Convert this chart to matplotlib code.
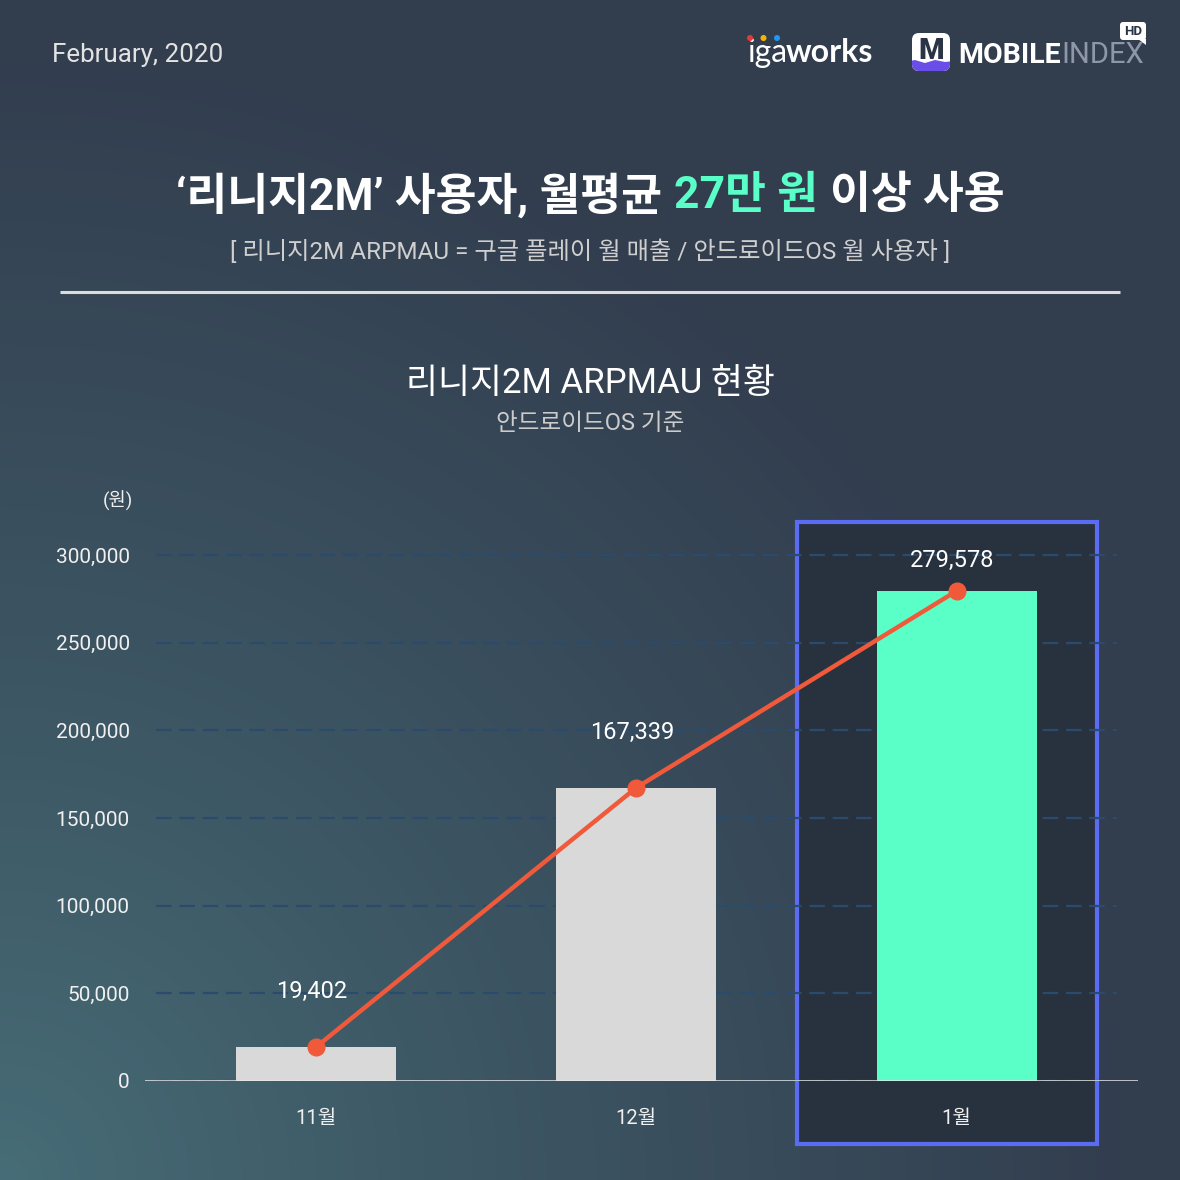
import numpy as np
import matplotlib
matplotlib.use('Agg')
import matplotlib.pyplot as plt
from matplotlib.patches import Rectangle, FancyBboxPatch, Circle, Polygon
from matplotlib.ticker import FuncFormatter

# ---------------- data ----------------
categories = ['11월', '12월', '1월']
arpmau = [19402, 167339, 279578]
yticks = [0, 50000, 100000, 150000, 200000, 250000, 300000]
bar_colors = ['#d9d9d9', '#d9d9d9', '#5affc8']
highlight = 2

title_parts = ['‘리니지2M’ 사용자, 월평균', '27만 원', '이상 사용']
title_colors = ['white', '#5affc8', 'white']
subtitle = '[ 리니지2M ARPMAU = 구글 플레이 월 매출 / 안드로이드OS 월 사용자 ]'
chart_title = '리니지2M ARPMAU 현황'
chart_sub = '안드로이드OS 기준'
unit_label = '(원)'
date_label = 'February, 2020'

W = H = 1180
fig = plt.figure(figsize=(11.8, 11.8), dpi=100)
KR = ['Noto Sans CJK KR', 'DejaVu Sans']
NUM = ['Roboto', 'Noto Sans CJK KR', 'DejaVu Sans']
LOGO = ['Roboto', 'DejaVu Sans']

# ---------------- background ----------------
bg = fig.add_axes([0, 0, 1, 1])
bg.set_xlim(0, W); bg.set_ylim(H, 0); bg.axis('off')
yy, xx = np.mgrid[0:H, 0:W]
s = np.clip(np.hypot(xx, H - yy) / 1150, 0, 1) ** 0.85
teal = np.array([0x47, 0x6e, 0x78]) / 255
dark = np.array([0x32, 0x3d, 0x4e]) / 255
img = teal[None, None, :] * (1 - s[..., None]) + dark[None, None, :] * s[..., None]
bg.imshow(img, extent=(0, W, H, 0), aspect='auto', zorder=0, interpolation='bilinear')

renderer = fig.canvas.get_renderer()

# date
bg.text(52, 55, date_label, fontsize=18.7, color='#e3e3e3', va='center', ha='left', family=NUM)

# igaworks logo
t1 = bg.text(747, 62, 'iga', fontsize=23, color='white', va='baseline', ha='left', family=['Lato', 'DejaVu Sans'])
w1 = t1.get_window_extent(renderer).width
bg.text(747 + w1 - 1, 62, 'works', fontsize=23, color='white', va='baseline', ha='left',
        family=['Lato', 'DejaVu Sans'], fontweight='bold')
for cx, c in zip([750, 763.5, 777], ['#e53935', '#f5b400', '#2196f3']):
    bg.add_patch(Circle((cx, 38), 2.3, color=c, zorder=3))

# mobileindex logo
icon = FancyBboxPatch((912, 33), 38, 38, boxstyle='round,pad=0,rounding_size=7',
                      fc='white', ec='none', zorder=3)
bg.add_patch(icon)
wave = Polygon([[905, 62], [915, 60], [925, 63], [935, 60], [945, 62], [955, 61], [955, 80], [905, 80]],
               closed=True, fc='#6a4ee8', ec='none', zorder=4)
bg.add_patch(wave)
wave.set_clip_path(icon)
bg.text(931, 51, 'M', fontsize=21, fontweight='heavy', color='#2b3445', ha='center', va='center',
        family=LOGO, zorder=5)
t2 = bg.text(958, 63, 'MOBILE', fontsize=20.5, fontweight='bold', color='white', ha='left', va='baseline',
             family=LOGO)
w2 = t2.get_window_extent(renderer).width
bg.text(958 + w2 + 1, 63, 'INDEX', fontsize=21, color='#8d97a8', ha='left', va='baseline',
        family=LOGO)
bg.add_patch(FancyBboxPatch((1120, 22), 26, 18, boxstyle='round,pad=0,rounding_size=3', fc='white', ec='none', zorder=3))
bg.add_patch(Polygon([[1138, 39], [1146, 39], [1146, 45]], closed=True, fc='white', ec='none', zorder=3))
bg.text(1133, 31.5, 'HD', fontsize=9.5, fontweight='bold', color='#2b3445', ha='center', va='center',
        family=LOGO, zorder=5)

# main title with coloured part
tsize = 32
gap = 12
texts = []
for p, c in zip(title_parts, title_colors):
    texts.append(bg.text(0, 196, p, fontsize=tsize, fontweight='bold', color=c, ha='left', va='center', family=NUM))
widths = [t.get_window_extent(renderer).width for t in texts]
total = sum(widths) + gap * (len(widths) - 1)
x0 = W / 2 - total / 2
for t, w in zip(texts, widths):
    t.set_x(x0)
    x0 += w + gap

bg.text(W / 2, 252, subtitle, fontsize=17.5, color='#cfcfcf', ha='center', va='center', family=NUM)
bg.plot([60, 1120], [292, 292], color='#dcdcdc', lw=2.2, solid_capstyle='butt')

bg.text(W / 2, 383, chart_title, fontsize=25, color='white', ha='center', va='center', family=NUM)
bg.text(W / 2, 423, chart_sub, fontsize=17, color='#cccccc', ha='center', va='center', family=NUM)
bg.text(118, 501, unit_label, fontsize=13.5, color='#f0f0f0', ha='center', va='center', family=NUM)

# ---------------- chart ----------------
ax = fig.add_axes([145 / W, 99 / H, 993 / W, 561 / H])
ax.patch.set_alpha(0)
for sp in ax.spines.values():
    sp.set_visible(False)
x = np.arange(len(categories))
ax.set_xlim(-0.534, 2.566)
ax.set_ylim(0, 320000)

ax.add_patch(Rectangle((highlight - 0.497, -35900), 0.935, 354700, fc='#28323f', ec='#5a6cf2',
                       lw=3, zorder=0.5, clip_on=False))
ax.hlines(yticks, -0.5, 2.5, colors='#2a4b6c', lw=1.6, linestyles=(0, (7, 3.5)), zorder=1)
ax.bar(x, arpmau, width=0.5, color=bar_colors, zorder=2)
ax.axhline(0, color='#e8e8e8', lw=1.8, zorder=3)
ax.plot(x, arpmau, color='#f05a3b', lw=3.2, marker='o', ms=12, zorder=4)

offsets = [40, 40, 22]
for xi, v, off in zip(x, arpmau, offsets):
    ax.annotate(f'{v:,}', (xi, v), xytext=(-3, off), textcoords='offset points', ha='center', va='center',
                fontsize=17, color='white', family=NUM, zorder=5)

ax.set_yticks(yticks)
ax.yaxis.set_major_formatter(FuncFormatter(lambda v, p: f'{int(v):,}'))
ax.set_xticks(x)
ax.set_xticklabels(categories)
ax.tick_params(axis='y', length=0, pad=11, labelsize=15, labelcolor='#f0f0f0')
ax.tick_params(axis='x', length=0, pad=20, labelsize=14.5, labelcolor='#f0f0f0')
for lab in ax.get_xticklabels() + ax.get_yticklabels():
    lab.set_family(NUM)

fig.savefig('out.png', dpi=100)
